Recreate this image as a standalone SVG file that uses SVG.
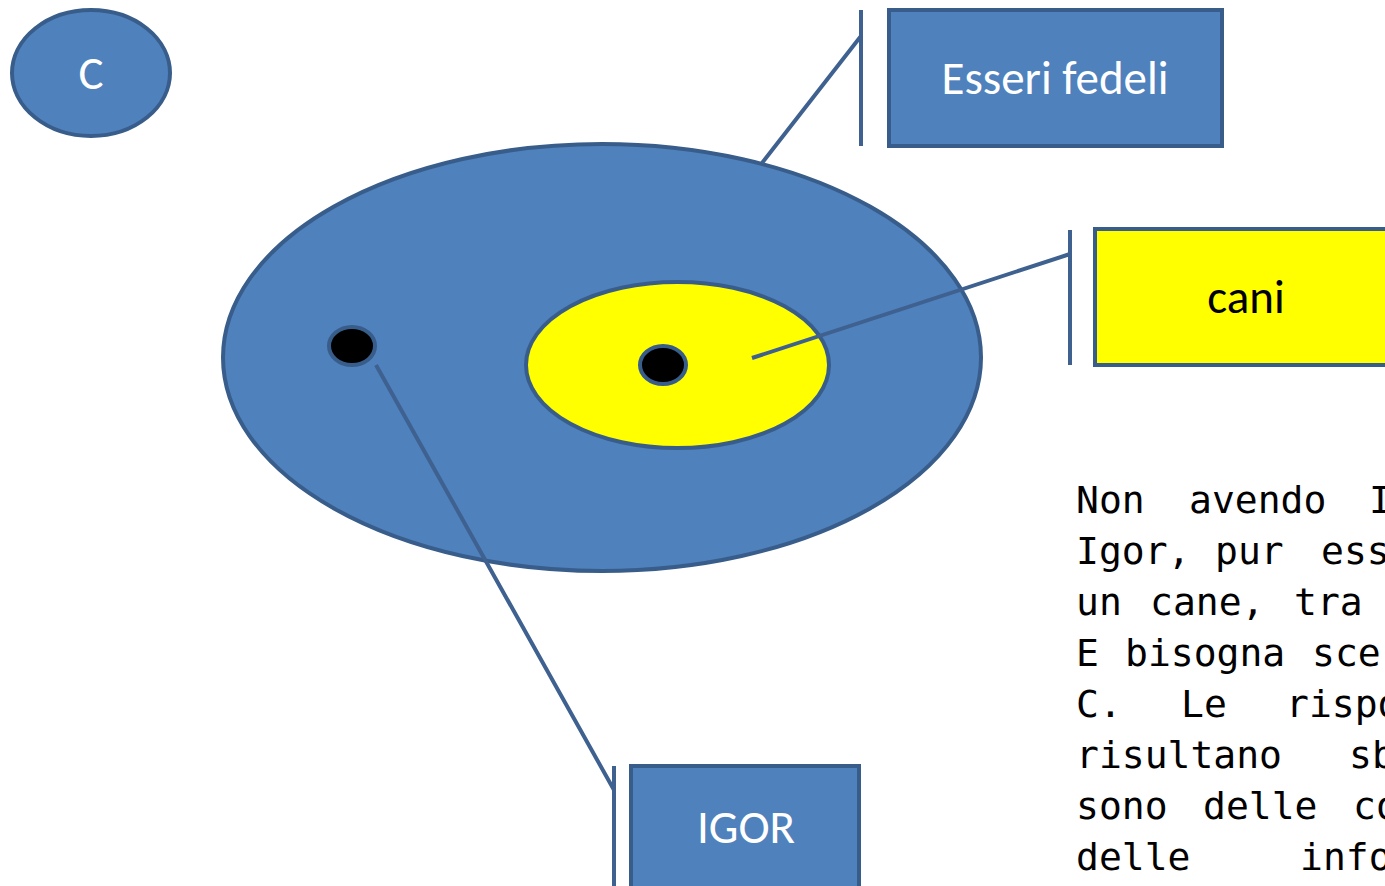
<svg xmlns="http://www.w3.org/2000/svg" width="1385" height="886" viewBox="0 0 1385 886">
<style>
.shape{fill:#4F81BD;stroke:#385D8A;stroke-width:4}
.yel{fill:#FFFF00;stroke:#385D8A;stroke-width:4}
.dot{fill:#000;stroke:#385D8A;stroke-width:4}
.lbl{font-family:Carlito,Lato,"Liberation Sans",sans-serif;font-size:47px;fill:#fff;text-anchor:middle}
.conn{stroke:#3F6190;stroke-width:4;fill:none}
.body{font-family:"DejaVu Sans Mono","Liberation Mono",monospace;font-size:38px;fill:#000}
</style>
<rect width="1385" height="886" fill="#fff"/>
<g id="node-C">
<ellipse class="shape" cx="91" cy="73" rx="79" ry="63"/>
<text class="lbl" x="91" y="89">C</text>
</g>
<g id="node-esseri-fedeli-set">
<ellipse class="shape" cx="602" cy="357.5" rx="379" ry="213.5"/>
</g>
<g id="node-cani-set">
<ellipse class="yel" cx="677.5" cy="365" rx="151.5" ry="83"/>
</g>
<g id="node-igor-point">
<ellipse class="dot" cx="352" cy="346" rx="23" ry="19"/>
</g>
<g id="node-cane-point">
<ellipse class="dot" cx="663" cy="365" rx="23" ry="19"/>
</g>
<g id="node-esseri-fedeli">
<rect class="shape" x="889" y="10" width="333" height="136"/>
<text class="lbl" x="1055" y="94">Esseri fedeli</text>
</g>
<g id="node-cani">
<rect class="yel" x="1095" y="229" width="303" height="136"/>
<text class="lbl" x="1246" y="313" style="fill:#000">cani</text>
</g>
<g id="node-igor">
<rect class="shape" x="631" y="766" width="228" height="140"/>
<text class="lbl" x="746" y="843">IGOR</text>
</g>
<g id="connectors">
<path class="conn" d="M861 10V146M861 36L762 163"/>
<path class="conn" d="M1070 230V365M1070 254L752 358"/>
<path class="conn" d="M614 766V886M614 790L376 365"/>
</g>
<g id="note">
<text class="body" y="513"><tspan x="1076">Non</tspan><tspan x="1189">avendo</tspan><tspan x="1369">I</tspan></text>
<text class="body" y="564"><tspan x="1076">Igor,</tspan><tspan x="1215">pur</tspan><tspan x="1321">ess</tspan></text>
<text class="body" y="615"><tspan x="1076">un</tspan><tspan x="1150">cane,</tspan><tspan x="1294">tra</tspan></text>
<text class="body" y="666"><tspan x="1076">E</tspan><tspan x="1125">bisogna</tspan><tspan x="1312">sce</tspan></text>
<text class="body" y="717"><tspan x="1076">C.</tspan><tspan x="1181">Le</tspan><tspan x="1286">rispo</tspan></text>
<text class="body" y="768"><tspan x="1076">risultano</tspan><tspan x="1349">sb</tspan></text>
<text class="body" y="819"><tspan x="1076">sono</tspan><tspan x="1203">delle</tspan><tspan x="1353">co</tspan></text>
<text class="body" y="870"><tspan x="1076">delle</tspan><tspan x="1300">info</tspan></text>
</g>
</svg>
